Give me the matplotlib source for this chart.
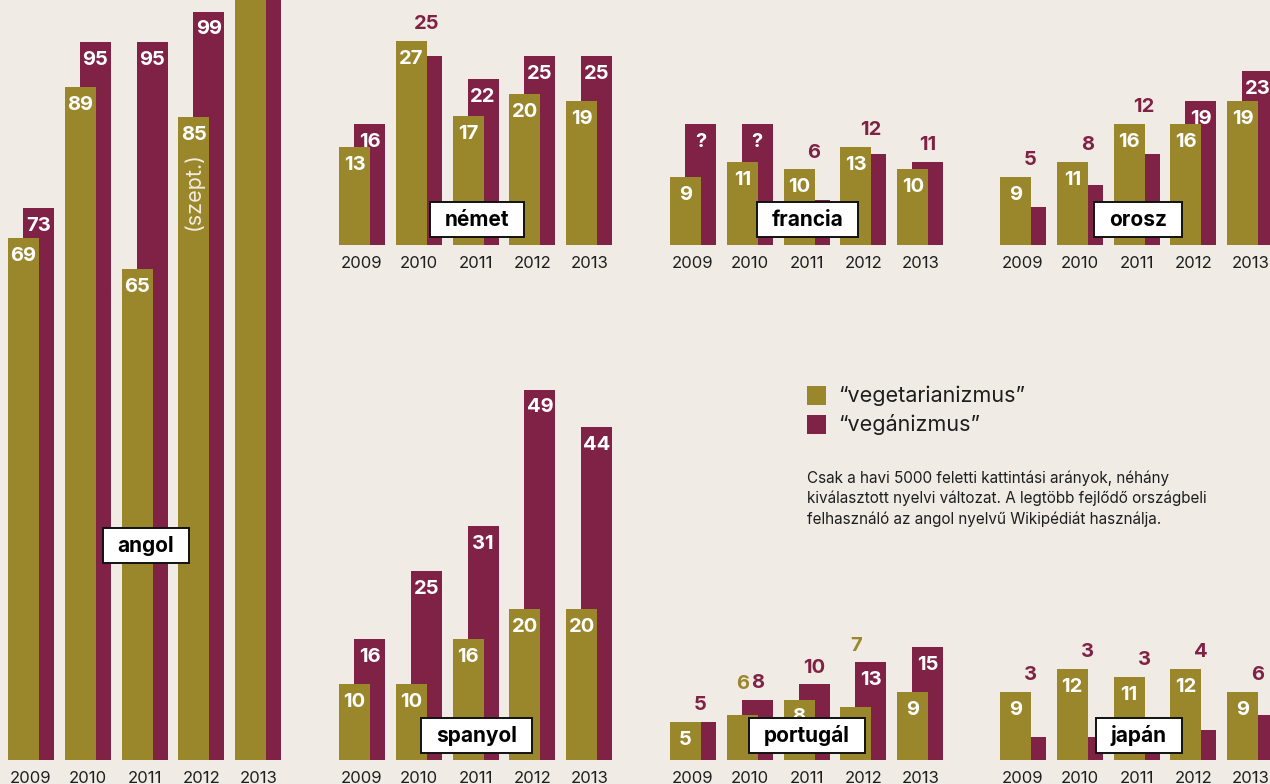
import matplotlib
matplotlib.use("Agg")
import matplotlib.pyplot as plt
from matplotlib.path import Path
from matplotlib.patches import Rectangle
import numpy as np

# ---------------- data ----------------
years = ["2009", "2010", "2011", "2012", "2013"]

angol_vegetarian = [69, 89, 65, 85, 110]          # 2013 runs off the top (unlabelled)
angol_vegan = [73, 95, 95, 99, 120]
angol_vegetarian_labels = ["69", "89", "65", "85", None]
angol_vegan_labels = ["73", "95", "95", "99", None]

nemet_vegetarian = [13, 27, 17, 20, 19]
nemet_vegan = [16, 25, 22, 25, 25]

francia_vegetarian = [9, 11, 10, 13, 10]
francia_vegan = [16, 16, 6, 12, 11]              # "?" bars drawn at their pictured height
francia_vegan_labels = ["?", "?", "6", "12", "11"]

orosz_vegetarian = [9, 11, 16, 16, 19]
orosz_vegan = [5, 8, 12, 19, 23]

spanyol_vegetarian = [10, 10, 16, 20, 20]
spanyol_vegan = [16, 25, 31, 49, 44]

portugal_vegetarian = [5, 6, 8, 7, 9]
portugal_vegan = [5, 8, 10, 13, 15]

japan_vegetarian = [9, 12, 11, 12, 9]
japan_vegan = [3, 3, 3, 4, 6]

legend_labels = ["\u201cvegetarianizmus\u201d", "\u201cveg\u00e1nizmus\u201d"]
note_text = ("Csak a havi 5000 feletti kattint\u00e1si ar\u00e1nyok, n\u00e9h\u00e1ny\n"
             "kiv\u00e1lasztott nyelvi v\u00e1ltozat. A legt\u00f6bb fejl\u0151d\u0151 orsz\u00e1gbeli\n"
             "felhaszn\u00e1l\u00f3 az angol nyelv\u0171 Wikip\u00e9di\u00e1t haszn\u00e1lja.")

# ---------------- style ----------------
W, H = 1270, 784
BG = "#F1EBE5"
OLIVE = "#9A862B"
MAROON = "#7F2245"
DARK = "#1E1E1E"
FONT = ["Inter", "DejaVu Sans"]
PX_PER_UNIT = 7.56
SPACING = 56.8
BAR_W = 31 / SPACING
OFF = 7.5 / SPACING

plt.rcParams["font.family"] = FONT

fig = plt.figure(figsize=(W / 100, H / 100), dpi=100, facecolor=BG)


def name_box(x0, y0, width, height, mutation_size):
    padx = 15
    pady = (35 - height) / 2
    verts = [(x0 - padx, y0 - pady), (x0 + width + padx, y0 - pady),
             (x0 + width + padx, y0 + height + pady), (x0 - padx, y0 + height + pady),
             (x0 - padx, y0 - pady)]
    codes = [Path.MOVETO, Path.LINETO, Path.LINETO, Path.LINETO, Path.CLOSEPOLY]
    return Path(verts, codes)


def panel(center2009, baseline, top, veg, vegan, name, box_xy,
          veg_labels=None, vegan_labels=None, veg_above=()):
    left = center2009 - 0.5 * SPACING
    width = 5 * SPACING
    ax = fig.add_axes([left / W, (H - baseline) / H, width / W, (baseline - top) / H])
    ax.set_facecolor("none")
    ax.set_xlim(-0.5, 4.5)
    ax.set_ylim(0, (baseline - top) / PX_PER_UNIT)
    for s in ax.spines.values():
        s.set_visible(False)
    ax.set_yticks([])
    x = np.arange(5)
    ax.set_xticks(x, years)
    ax.tick_params(axis="x", length=0, pad=8.0, labelsize=12, labelcolor=DARK)

    ax.bar(x + OFF, vegan, width=BAR_W, color=MAROON, zorder=1, linewidth=0)
    ax.bar(x - OFF, veg, width=BAR_W, color=OLIVE, zorder=2, linewidth=0)

    if veg_labels is None:
        veg_labels = [str(v) for v in veg]
    if vegan_labels is None:
        vegan_labels = [str(v) for v in vegan]

    kw = dict(textcoords="offset points", ha="center", va="baseline",
              fontsize=14.5, fontweight="bold", zorder=5)
    for i in range(5):
        top_val = max(veg[i], vegan[i])
        if veg_labels[i] is not None:
            if i in veg_above:
                ax.annotate(veg_labels[i], xy=(i - OFF, top_val), xytext=(0, 7.5),
                            color=OLIVE, **kw)
            else:
                ax.annotate(veg_labels[i], xy=(i - OFF, veg[i]), xytext=(0, -16.5),
                            color="white", **kw)
        if vegan_labels[i] is not None:
            if vegan[i] - veg[i] >= 3:
                ax.annotate(vegan_labels[i], xy=(i + OFF, vegan[i]), xytext=(0, -16.5),
                            color="white", **kw)
            else:
                ax.annotate(vegan_labels[i], xy=(i + OFF, top_val), xytext=(0, 8.5),
                            color=MAROON, **kw)

    fig.text(box_xy[0] / W, 1 - box_xy[1] / H, name, ha="center", va="center",
             fontsize=15, fontweight="bold", color="black", zorder=10,
             bbox=dict(boxstyle=name_box, facecolor="white", edgecolor="#111111",
                       linewidth=1.4))
    return ax


ax_en = panel(31, 760, 0, angol_vegetarian, angol_vegan, "angol", (146, 545.5),
              veg_labels=angol_vegetarian_labels, vegan_labels=angol_vegan_labels)
ax_en.annotate("(szept.)", xy=(3 - OFF, 75.3), ha="center", va="center", rotation=90,
               fontsize=15.5, fontweight="normal", color="#F2ECDF", zorder=5)

panel(362, 245, 0, nemet_vegetarian, nemet_vegan, "n\u00e9met", (477, 219.5))
panel(693, 245, 0, francia_vegetarian, francia_vegan, "francia", (807.5, 219.5),
      vegan_labels=francia_vegan_labels)
panel(1023, 245, 0, orosz_vegetarian, orosz_vegan, "orosz", (1138, 219.5))
panel(362, 760, 300, spanyol_vegetarian, spanyol_vegan, "spanyol", (476.5, 735.5))
panel(693, 760, 300, portugal_vegetarian, portugal_vegan, "portug\u00e1l", (807, 735.5),
      veg_above=(1, 3))
panel(1023, 760, 300, japan_vegetarian, japan_vegan, "jap\u00e1n", (1138.5, 735.5))

# legend
for (ytop, col, lab) in [(386, OLIVE, legend_labels[0]), (415, MAROON, legend_labels[1])]:
    fig.patches.append(Rectangle((807 / W, 1 - (ytop + 19) / H), 19 / W, 19 / H,
                                 transform=fig.transFigure, facecolor=col,
                                 edgecolor="none", zorder=3))
    fig.text(838 / W, 1 - (ytop + 9.5) / H, lab, ha="left", va="center",
             fontsize=15.5, fontweight="normal", color=DARK)

fig.text(807 / W, 1 - 470 / H, note_text, ha="left", va="top", fontsize=11.0,
         color=DARK, linespacing=1.42)

fig.savefig("out.png", dpi=100, facecolor=BG)
